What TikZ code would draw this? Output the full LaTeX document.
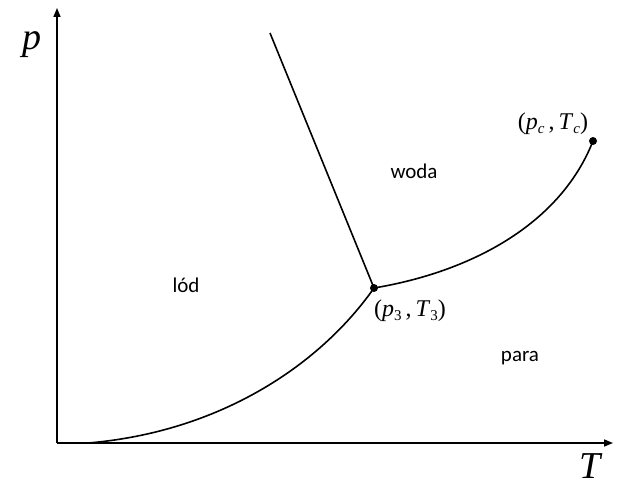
\documentclass[tikz,border=0pt]{standalone}
\usepackage{fontspec}
\setmainfont{Liberation Serif}
\newfontfamily\lab{Carlito}
\usetikzlibrary{arrows.meta}
\newcommand{\sbs}[1]{\raisebox{-0.35ex}{\fontsize{15}{15}\selectfont #1}}
\begin{document}
\begin{tikzpicture}[x=1pt,y=-1pt,
  axis/.style={line width=1.6pt,-{Triangle[length=9pt,width=7pt]}},
  curve/.style={line width=1.6pt},
  region/.style={font=\lab\fontsize{21}{21}\selectfont,inner sep=0pt},
  pt/.style={circle,fill=black,inner sep=0pt,minimum size=8pt},
  axlab/.style={font=\fontsize{38}{38}\selectfont\itshape,inner sep=0pt},
  ptlab/.style={font=\fontsize{24}{24}\selectfont,inner sep=0pt}]
\useasboundingbox (0,0) rectangle (634,487);
\coordinate (O) at (57,443);
\coordinate (ytip) at (57,8);
\coordinate (xtip) at (613,443);
\coordinate (s0) at (88,443);
\coordinate (m0) at (270,33);
\node[pt] (tp) at (374,288) {};
\node[pt] (cp) at (593,141) {};
\draw[axis] (O) -- (ytip);
\draw[axis] (O) -- (xtip);
\draw[curve] (s0) .. controls (220,432) and (320,365) .. (tp.center);
\draw[curve] (tp.center) .. controls (470,272) and (560,225) .. (cp.center);
\draw[curve] (tp.center) -- (m0);
\node[axlab] (plab) at (32,45) {p};
\node[axlab] (Tlab) at (590,466) {T};
\node[region] (lod) at (186,285) {lód};
\node[region] (woda) at (414,171) {woda};
\node[region] (para) at (520,358) {para};
\node[ptlab] (tplab) at (410,311) {(\textit{p}\sbs{3}\,,\,\textit{T}\sbs{3})};
\node[ptlab] (cplab) at (553,124) {(\textit{p}\sbs{\textit{c}}\,,\,\textit{T}\sbs{\textit{c}})};
\end{tikzpicture}
\end{document}
